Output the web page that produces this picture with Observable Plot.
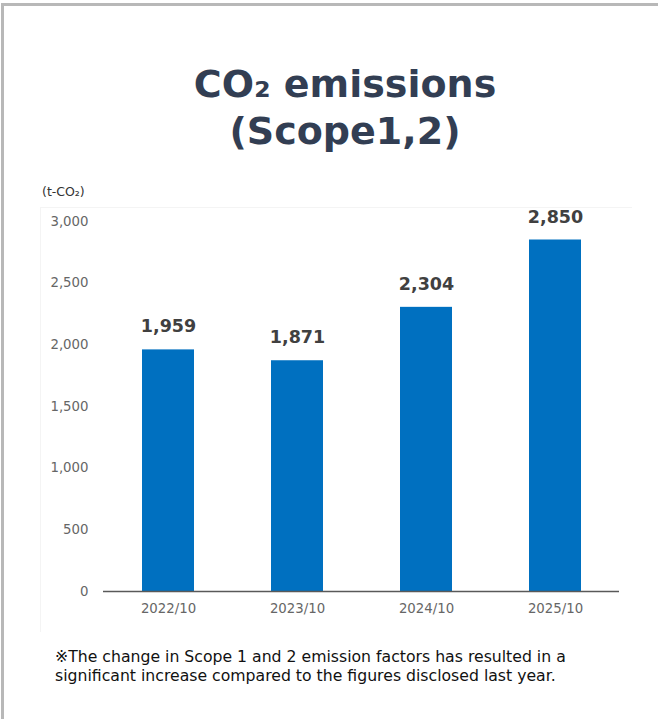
<!DOCTYPE html>
<html>
<head>
<meta charset="utf-8">
<script src="https://cdn.jsdelivr.net/npm/d3@7"></script>
<script src="https://cdn.jsdelivr.net/npm/@observablehq/plot@0.6"></script>
<style>
  html, body { margin: 0; padding: 0; background: #fff; }
  body { width: 658px; height: 719px; position: relative; overflow: hidden; font-family: "DejaVu Sans", sans-serif; }
  #frame { position: absolute; left: 1px; top: 3px; right: -10px; bottom: -10px; border-left: 3px solid #b8b8b8; border-top: 3px solid #b8b8b8; }
  #title { position: absolute; left: 45px; width: 600px; top: 61px; text-align: center; font-weight: bold; font-size: 38px; line-height: 47px; color: #323e53; }
  #unit { position: absolute; left: 42px; top: 184px; font-size: 12.5px; color: #333; }
  #plotbox { position: absolute; left: 40px; top: 207px; width: 592px; height: 425px; border-left: 1px solid #f4f4f4; border-top: 1px solid #f4f4f4; box-sizing: border-box; }
  #chart { position: absolute; left: 40px; top: 207px; }
  #note { position: absolute; left: 55px; top: 647px; font-size: 15.7px; line-height: 19px; color: #111; }
</style>
</head>
<body>
<div id="frame"></div>
<div id="title">CO₂ emissions<br>(Scope1,2)</div>
<div id="unit">(t-CO₂)</div>
<div id="plotbox"></div>
<div id="chart"></div>
<div id="note">※The change in Scope 1 and 2 emission factors has resulted in a<br>significant increase compared to the figures disclosed last year.</div>
<script>
const years = ["2022/10", "2023/10", "2024/10", "2025/10"];
const emissions = [1959, 1871, 2304, 2850];
const yTicks = [0, 500, 1000, 1500, 2000, 2500, 3000];

const data = years.map((y, i) => ({year: y, value: emissions[i]}));
const fmt = d3.format(",");

const chart = Plot.plot({
  width: 592,
  height: 425,
  marginTop: 14,
  marginBottom: 41,
  marginLeft: 63,
  marginRight: 13,
  style: {fontFamily: "DejaVu Sans, sans-serif", background: "transparent", overflow: "visible"},
  x: {domain: years, paddingInner: 0.6, paddingOuter: 0.3, label: null},
  y: {domain: [0, 3000], label: null},
  marks: [
    Plot.axisY({ticks: yTicks, tickFormat: fmt, tickSize: 0, tickPadding: 15, fontSize: 13.3, color: "#666", label: null}),
    Plot.axisX({tickSize: 0, tickPadding: 12, fontSize: 13.3, color: "#666", label: null}),
    Plot.barY(data, {x: "year", y: "value", fill: "#0070c0"}),
    Plot.ruleY([0], {stroke: "#595959", strokeWidth: 1.5}),
    Plot.text(data, {x: "year", y: "value", text: d => fmt(d.value), dy: -23, fontSize: 17.5, fontWeight: "bold", fill: "#404040"})
  ]
});
document.getElementById("chart").appendChild(chart);
</script>
</body>
</html>
